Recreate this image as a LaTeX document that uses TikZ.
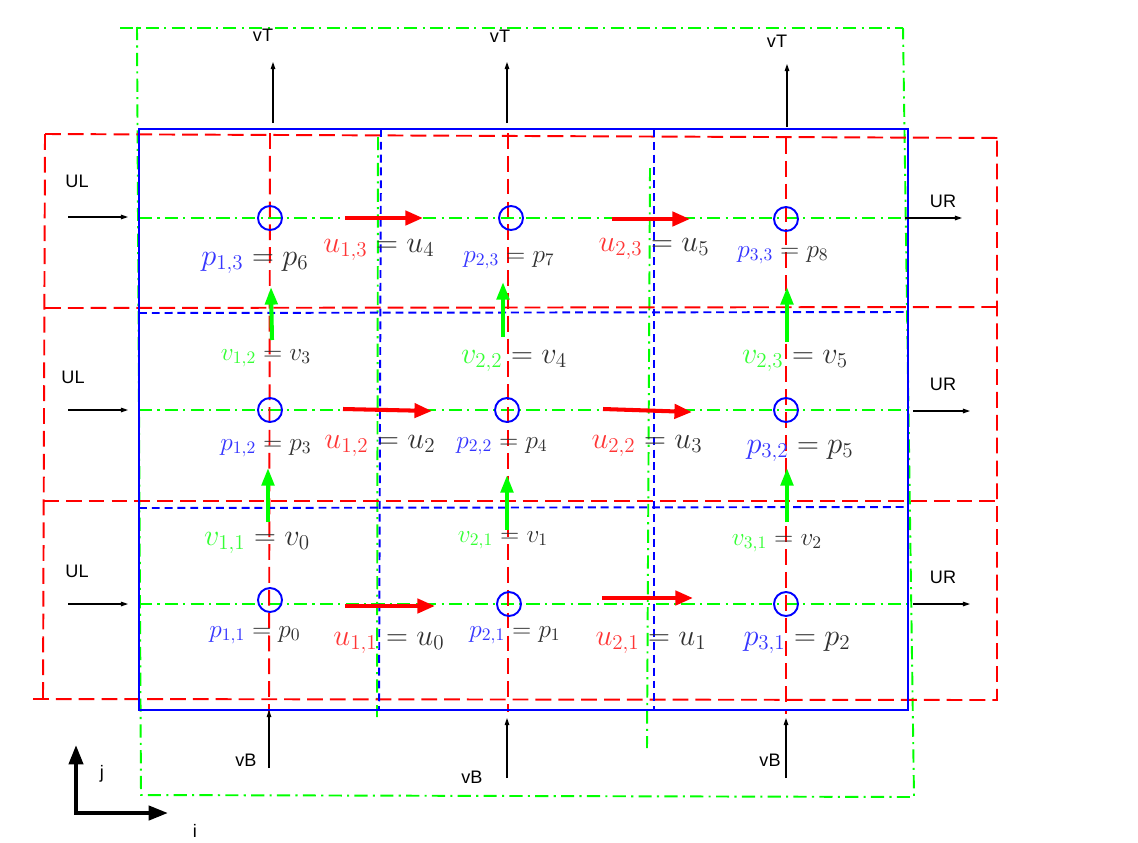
\documentclass[tikz,border=0pt]{standalone}
\usepackage{amsmath,amssymb}
\usepackage{fontspec}
\newfontfamily\bcfont{Liberation Sans}
\usepackage{tikz}
\usetikzlibrary{arrows.meta}
\definecolor{gridRed}{HTML}{FF0000}
\definecolor{gridBlue}{HTML}{0000FF}
\definecolor{gridGreen}{HTML}{00FF00}
\definecolor{lblRed}{HTML}{FF3535}
\definecolor{lblBlue}{HTML}{3535FF}
\definecolor{lblGreen}{HTML}{35FF35}
\definecolor{lblDark}{HTML}{303030}

\begin{document}
\begin{tikzpicture}[
  x=0.02cm, y=-0.02cm,
  redgrid/.style={draw=gridRed, line width=1.1pt, dash pattern=on 9pt off 4pt},
  bluegrid/.style={draw=gridBlue, line width=1.1pt, dash pattern=on 4.5pt off 2.8pt},
  greengrid/.style={draw=gridGreen, line width=1.1pt, dash pattern=on 7.5pt off 3pt on 1.2pt off 3pt},
  cellbox/.style={draw=gridBlue, line width=1.1pt},
  pcirc/.style={draw=gridBlue, line width=1.1pt, circle, inner sep=0pt, minimum size=0.48cm},
  uvec/.style={draw=gridRed, line width=2.3pt, -{Triangle[length=10pt,width=8pt]}},
  vvec/.style={draw=gridGreen, line width=2.3pt, -{Triangle[length=10pt,width=7pt]}},
  bcarr/.style={draw=black, line width=0.6pt, -{Triangle[length=4pt,width=2.6pt]}},
  axisarr/.style={draw=black, line width=2.2pt, -{Triangle[length=11pt,width=8pt]}},
  bctxt/.style={font=\bcfont\fontsize{10.3}{12}\selectfont, inner sep=0pt, anchor=base},
  bigeq/.style={font=\fontsize{16.5}{20}\selectfont, text=lblDark, inner sep=0pt, anchor=base},
  smalleq/.style={font=\fontsize{13.8}{16}\selectfont, text=lblDark, inner sep=0pt, anchor=base},
]
\useasboundingbox (0,0) rectangle (1138,842);

% green (v) control volumes
\draw[greengrid] (120,28) -- (903,28);
\draw[greengrid] (137,27) -- (141,795) -- (914,797) -- (903,28);
\draw[greengrid] (378,137) -- (377,717);
\draw[greengrid] (650,168) -- (647,748);
\draw[greengrid] (139,218) -- (906,218);
\draw[greengrid] (139,410) -- (908,410);
\draw[greengrid] (139,604) -- (908,604);

% red (u) control volumes
\draw[redgrid] (45,134) -- (1004,138);
\draw[redgrid] (45,134) -- (43,699);
\draw[redgrid] (33,699) -- (997,700) -- (997,138);
\draw[redgrid] (45,308) -- (1000,307);
\draw[redgrid] (43,501) -- (1001,501);
\draw[redgrid] (270,133) -- (269,712);
\draw[redgrid] (508,133) -- (508,712);
\draw[redgrid] (786,138) -- (786,714);

% blue (p) cells
\draw[bluegrid] (381,129) -- (379,710);
\draw[bluegrid] (654,129) -- (654,710);
\draw[bluegrid] (139,313) -- (908,312);
\draw[bluegrid] (139,508) -- (908,507);
\draw[cellbox] (139,129) rectangle (908,710);

% pressure points
\node[pcirc] (c13) at (270,218) {};
\node[pcirc] (c23) at (511,218) {};
\node[pcirc] (c33) at (786,219) {};
\node[pcirc] (c12) at (270,410) {};
\node[pcirc] (c22) at (507,410) {};
\node[pcirc] (c32) at (786,410) {};
\node[pcirc] (c11) at (270,600) {};
\node[pcirc] (c21) at (509,604) {};
\node[pcirc] (c31) at (786,604) {};

% u vectors
\draw[uvec] (345,218) -- (423,218);
\draw[uvec] (612,219) -- (690,219);
\draw[uvec] (343,409) -- (432,411);
\draw[uvec] (603,409) -- (692,412);
\draw[uvec] (345,606) -- (435,606);
\draw[uvec] (602,598) -- (693,598);

% v vectors
\draw[vvec] (272,340) -- (271,287);
\draw[vvec] (268,522) -- (268,468);
\draw[vvec] (503,337) -- (503,282);
\draw[vvec] (507,530) -- (507,475);
\draw[vvec] (787,342) -- (787,287);
\draw[vvec] (787,522) -- (787,468);

% boundary conditions
\draw[bcarr] (273,123) -- (273,62);
\draw[bcarr] (507,123) -- (507,62);
\draw[bcarr] (787,127) -- (787,64);
\draw[bcarr] (68,217) -- (128,217);
\draw[bcarr] (68,410) -- (128,410);
\draw[bcarr] (68,604) -- (128,604);
\draw[bcarr] (905,218) -- (962,218);
\draw[bcarr] (913,411) -- (970,411);
\draw[bcarr] (913,604) -- (970,604);
\draw[bcarr] (269,768) -- (269,710);
\draw[bcarr] (507,778) -- (507,718);
\draw[bcarr] (786,778) -- (786,718);

\node[bctxt] (vt1) at (263,41) {vT};
\node[bctxt] (vt2) at (500,42) {vT};
\node[bctxt] (vt3) at (777,47) {vT};
\node[bctxt] (ul3) at (77,187) {UL};
\node[bctxt] (ul2) at (73,383) {UL};
\node[bctxt] (ul1) at (77,577) {UL};
\node[bctxt] (ur3) at (943,207) {UR};
\node[bctxt] (ur2) at (943,390) {UR};
\node[bctxt] (ur1) at (943,583) {UR};
\node[bctxt] (vb1) at (246,766) {vB};
\node[bctxt] (vb2) at (472,783) {vB};
\node[bctxt] (vb3) at (770,766) {vB};

% index axes
\draw[axisarr] (76,811) -- (76,745);
\draw[axisarr] (74,813) -- (168,813);
\node[bctxt] (jlbl) at (102,778) {j};
\node[bctxt] (ilbl) at (195,837) {i};

% row 3 labels
\node[bigeq]   (p13) at (255,265) {${\color{lblBlue}p_{1,3}} = p_6$};
\node[bigeq]   (u13) at (379,252) {${\color{lblRed}u_{1,3}} = u_4$};
\node[smalleq] (p23) at (509,262) {${\color{lblBlue}p_{2,3}} = p_7$};
\node[bigeq]   (u23) at (654,251) {${\color{lblRed}u_{2,3}} = u_5$};
\node[smalleq] (p33) at (783,257) {${\color{lblBlue}p_{3,3}} = p_8$};

% v labels between rows 2 and 3
\node[smalleq] (v12) at (266,360) {${\color{lblGreen}v_{1,2}} = v_3$};
\node[bigeq]   (v22) at (514,363) {${\color{lblGreen}v_{2,2}} = v_4$};
\node[bigeq]   (v23) at (795,363) {${\color{lblGreen}v_{2,3}} = v_5$};

% row 2 labels
\node[smalleq] (p12) at (266,450) {${\color{lblBlue}p_{1,2}} = p_3$};
\node[bigeq]   (u12) at (380,448) {${\color{lblRed}u_{1,2}} = u_2$};
\node[smalleq] (p22) at (502,448) {${\color{lblBlue}p_{2,2}} = p_4$};
\node[bigeq]   (u22) at (647,448) {${\color{lblRed}u_{2,2}} = u_3$};
\node[bigeq]   (p32) at (800,453) {${\color{lblBlue}p_{3,2}} = p_5$};

% v labels between rows 1 and 2
\node[bigeq]   (v11) at (257,545) {${\color{lblGreen}v_{1,1}} = v_0$};
\node[smalleq] (v21) at (503,542) {${\color{lblGreen}v_{2,1}} = v_1$};
\node[smalleq] (v31) at (777,545) {${\color{lblGreen}v_{3,1}} = v_2$};

% row 1 labels
\node[smalleq] (p11) at (255,637) {${\color{lblBlue}p_{1,1}} = p_0$};
\node[bigeq]   (u11) at (389,645) {${\color{lblRed}u_{1,1}} = u_0$};
\node[smalleq] (p21) at (515,637) {${\color{lblBlue}p_{2,1}} = p_1$};
\node[bigeq]   (u21) at (651,645) {${\color{lblRed}u_{2,1}} = u_1$};
\node[bigeq]   (p31) at (797,645) {${\color{lblBlue}p_{3,1}} = p_2$};
\end{tikzpicture}
\end{document}
